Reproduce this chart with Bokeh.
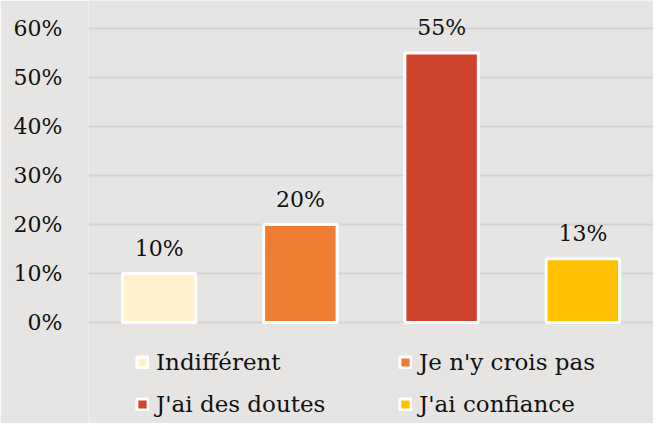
from bokeh.plotting import figure
from bokeh.models import ColumnDataSource, FixedTicker, NumeralTickFormatter, FactorRange
from bokeh.core.properties import value
from bokeh.embed import file_html
from bokeh.resources import INLINE

categories = ["Indifférent", "Je n'y crois pas", "J'ai des doutes", "J'ai confiance"]
shares = [0.10, 0.20, 0.55, 0.13]
colors = ["#FFF2CC", "#ED7D31", "#CD432B", "#FFC000"]
y_ticks = [0.0, 0.1, 0.2, 0.3, 0.4, 0.5, 0.6]

FONT = "DejaVu Serif"
BG = "#E6E5E4"

labels = ["{:.0f}%".format(v * 100) for v in shares]
src = ColumnDataSource(dict(cat=categories, val=shares, color=colors, label=labels))

p = figure(width=653, height=423, x_range=FactorRange(*categories, range_padding=0),
           y_range=(-0.2061, 0.6571), x_axis_location=None,
           output_backend="svg", toolbar_location=None,
           min_border_left=88, min_border_right=0, min_border_top=0, min_border_bottom=0)
p.background_fill_color = BG
p.border_fill_color = BG
p.outline_line_color = None

p.vbar(x="cat", top="val", width=0.52, source=src, fill_color="color",
       line_color="white", line_width=3, legend_field="cat")

p.text(x="cat", y="val", text="label", source=src, text_align="center",
       text_baseline="alphabetic", y_offset=-25, text_font=value(FONT),
       text_font_size="22px", text_color="#111111")

p.xgrid.visible = False
p.ygrid.ticker = FixedTicker(ticks=y_ticks)
p.ygrid.grid_line_color = "#D5D4D3"
p.ygrid.grid_line_width = 2

ax = p.yaxis[0]
ax.ticker = FixedTicker(ticks=y_ticks)
ax.formatter = NumeralTickFormatter(format="0%")
ax.axis_line_color = None
ax.major_tick_line_color = None
ax.minor_tick_line_color = None
ax.major_tick_out = 0
ax.major_label_standoff = 26
ax.major_label_text_font = FONT
ax.major_label_text_font_size = "22px"
ax.major_label_text_color = "#111111"

lg = p.legend[0]
lg.ncols = 2
lg.orientation = "horizontal"
lg.location = (47, 6)
lg.background_fill_alpha = 0
lg.border_line_alpha = 0
lg.padding = 0
lg.margin = 0
lg.glyph_width = 14
lg.glyph_height = 14
lg.label_standoff = 7
lg.label_width = 226
lg.label_height = 26
lg.spacing = 16
lg.label_text_font = FONT
lg.label_text_font_size = "23px"
lg.label_text_color = "#111111"
lg.label_text_baseline = "middle"

open("out.html", "w").write(file_html(p, INLINE))
